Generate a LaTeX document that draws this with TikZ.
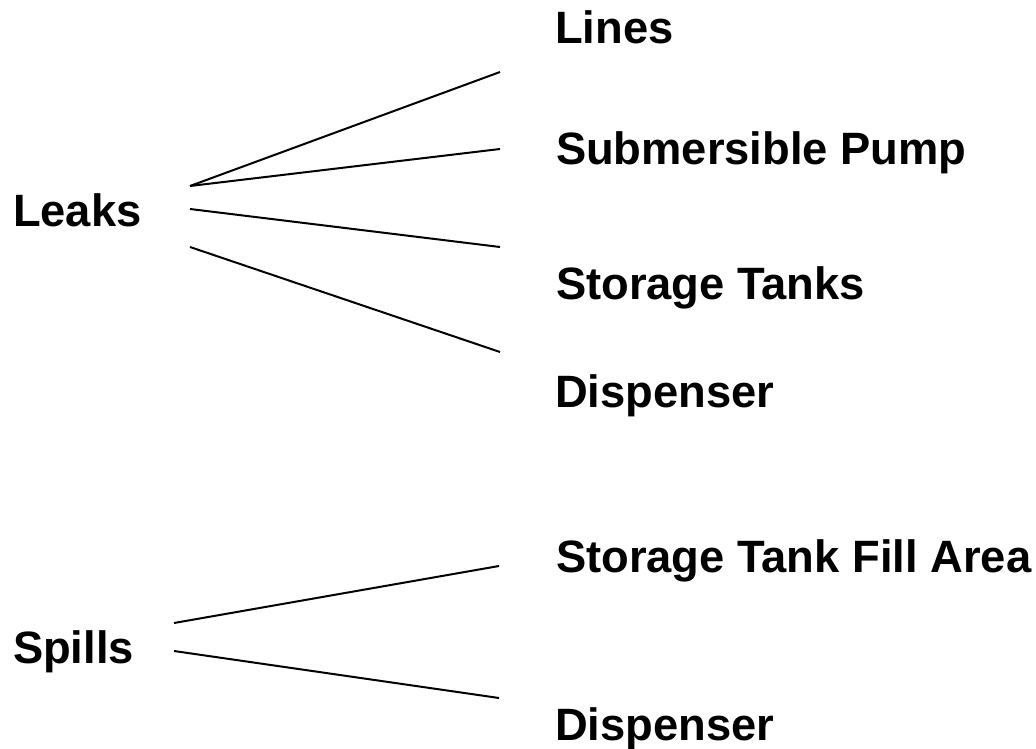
\documentclass[tikz,border=0pt]{standalone}
\usepackage{fontspec}
\setmainfont{Liberation Sans}
\usepackage{tikz}
\usetikzlibrary{positioning}

\begin{document}
\begin{tikzpicture}[x=0.75pt, y=-0.75pt, line width=1.5pt,
    every node/.style={font=\bfseries\fontsize{34}{40}\selectfont, inner sep=0pt, anchor=base west}]
    \useasboundingbox (0,0) rectangle (1036,749);

    \node (L) at (12,226) {Leaks};
    \node (S) at (12,663) {Spills};
    \node (A) at (554,44) {Lines};
    \node (B) at (555,165) {Submersible Pump};
    \node (C) at (555,299) {Storage Tanks};
    \node (D) at (554,407) {Dispenser};
    \node (E) at (555,572) {Storage Tank Fill Area};
    \node (F) at (554,740) {Dispenser};

    \coordinate (L1) at (190,186);
    \coordinate (L2) at (190,209);
    \coordinate (L3) at (190,247);
    \coordinate (S1) at (174,623);
    \coordinate (S2) at (174,651);
    \coordinate (A1) at (500,72);
    \coordinate (B1) at (500,149);
    \coordinate (C1) at (500,247);
    \coordinate (D1) at (500,352);
    \coordinate (E1) at (499,566);
    \coordinate (F1) at (499,698);

    \path (L1) edge (A1)
          (L1) edge (B1)
          (L2) edge (C1)
          (L3) edge (D1)
          (S1) edge (E1)
          (S2) edge (F1);
  \end{tikzpicture}
\end{document}
